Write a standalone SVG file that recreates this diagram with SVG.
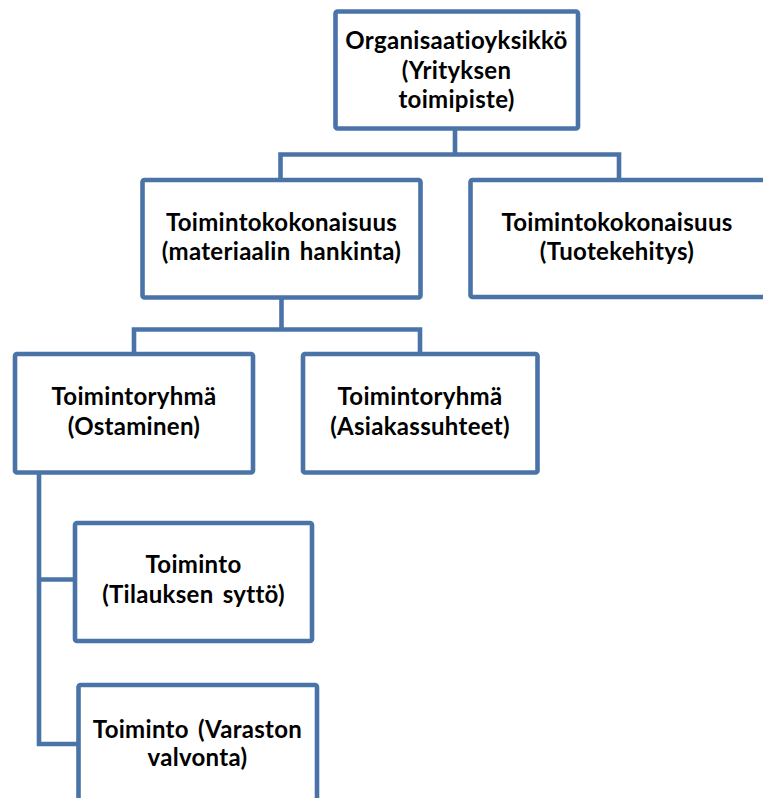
<svg xmlns="http://www.w3.org/2000/svg" width="763" height="798" viewBox="0 0 763 798">
  <style>
    .box { fill: #ffffff; stroke: #4A74A8; stroke-width: 4.6; }
    .link { fill: none; stroke: #4A74A8; stroke-width: 4.6; stroke-linejoin: miter; }
    .label { font-family: Lato, "Liberation Sans", sans-serif; font-weight: 700; font-size: 24px; letter-spacing: 0.3px; word-spacing: 3px; fill: #000000; text-anchor: middle; }
  </style>
  <rect width="763" height="798" fill="#ffffff"/>

  <!-- connectors -->
  <g id="connectors">
    <path class="link" d="M455 129 V154.5 M280.5 180 V154.5 H619 V180"/>
    <path class="link" d="M281.5 297.5 V329.5 M134 354 V329.5 H420 V354"/>
    <path class="link" d="M39 472.5 V744 H78.5 M39 579.5 H75"/>
  </g>

  <!-- organisation unit -->
  <g id="node-organisaatioyksikko">
    <rect class="box" x="335.5" y="11.5" width="242.5" height="117" rx="2"/>
    <text class="label" x="456.5" y="49">Organisaatioyksikkö</text>
    <text class="label" x="456.5" y="79">(Yrityksen</text>
    <text class="label" x="456.5" y="108">toimipiste)</text>
  </g>

  <g id="node-hankinta">
    <rect class="box" x="142.5" y="180" width="278" height="117.5" rx="2"/>
    <text class="label" x="281.5" y="231">Toimintokokonaisuus</text>
    <text class="label" x="281.5" y="260">(materiaalin hankinta)</text>
  </g>

  <g id="node-tuotekehitys">
    <rect class="box" x="470.5" y="180" width="300" height="117" rx="2"/>
    <text class="label" x="617" y="231">Toimintokokonaisuus</text>
    <text class="label" x="617" y="260">(Tuotekehitys)</text>
  </g>

  <g id="node-ostaminen">
    <rect class="box" x="15" y="354" width="238" height="118.5" rx="2"/>
    <text class="label" x="134" y="405">Toimintoryhmä</text>
    <text class="label" x="134" y="435">(Ostaminen)</text>
  </g>

  <g id="node-asiakassuhteet">
    <rect class="box" x="303" y="354" width="234.5" height="118.5" rx="2"/>
    <text class="label" x="420" y="405">Toimintoryhmä</text>
    <text class="label" x="420" y="435">(Asiakassuhteet)</text>
  </g>

  <g id="node-tilauksen-sytto">
    <rect class="box" x="75" y="523" width="237" height="118" rx="2"/>
    <text class="label" x="193.5" y="573">Toiminto</text>
    <text class="label" x="193.5" y="603">(Tilauksen syttö)</text>
  </g>

  <g id="node-varaston-valvonta">
    <rect class="box" x="78.5" y="685" width="238.5" height="130" rx="2"/>
    <text class="label" x="197.5" y="738">Toiminto (Varaston</text>
    <text class="label" x="197.5" y="766">valvonta)</text>
  </g>
</svg>
